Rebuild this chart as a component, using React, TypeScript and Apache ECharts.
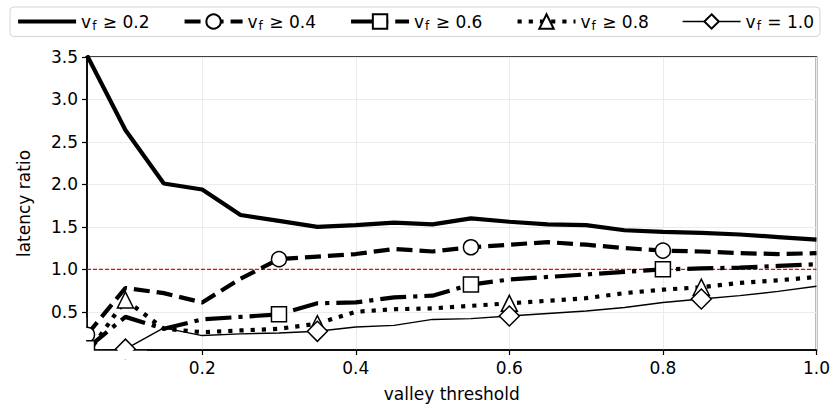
import React, { useEffect, useRef } from "react";
import * as echarts from "echarts";

// Valley threshold sweep (x) and latency ratio per minimum valley fraction.
const thresholds = [0.05, 0.1, 0.15, 0.2, 0.25, 0.3, 0.35, 0.4, 0.45, 0.5, 0.55, 0.6, 0.65, 0.7, 0.75, 0.8, 0.85, 0.9, 0.95, 1.0];
const vf02 = [3.52, 2.64, 2.01, 1.94, 1.64, 1.57, 1.5, 1.52, 1.55, 1.53, 1.6, 1.56, 1.53, 1.52, 1.46, 1.44, 1.43, 1.41, 1.38, 1.35];
const vf04 = [0.23, 0.78, 0.72, 0.61, 0.89, 1.12, 1.15, 1.18, 1.24, 1.21, 1.26, 1.29, 1.32, 1.29, 1.25, 1.22, 1.21, 1.19, 1.18, 1.19];
const vf06 = [0.07, 0.44, 0.3, 0.41, 0.44, 0.47, 0.6, 0.61, 0.67, 0.69, 0.82, 0.88, 0.91, 0.94, 0.97, 1.0, 1.01, 1.02, 1.04, 1.06];
const vf08 = [0.0, 0.64, 0.3, 0.26, 0.28, 0.3, 0.36, 0.5, 0.53, 0.54, 0.57, 0.6, 0.63, 0.66, 0.72, 0.76, 0.79, 0.84, 0.87, 0.91];
const vf10 = [0.03, 0.06, 0.31, 0.22, 0.24, 0.25, 0.27, 0.32, 0.34, 0.41, 0.42, 0.45, 0.48, 0.51, 0.55, 0.61, 0.65, 0.69, 0.74, 0.8];

const xTicks = [0.2, 0.4, 0.6, 0.8, 1.0];
const yTicks = [0.5, 1.0, 1.5, 2.0, 2.5, 3.0, 3.5];
const xRange = [0.05, 1.0];
const yRange = [0.05, 3.5];
const baseline = 1.0;

// Marker positions (every fifth sample)
const markEveryA = [0, 5, 10, 15];
const markEveryB = [1, 6, 11, 16];

const legendLabels: Record<string, string> = {
  vf02: "{t|v}{s|f}{t| \u2265 0.2}",
  vf04: "{t|v}{s|f}{t| \u2265 0.4}",
  vf06: "{t|v}{s|f}{t| \u2265 0.6}",
  vf08: "{t|v}{s|f}{t| \u2265 0.8}",
  vf10: "{t|v}{s|f}{t| = 1.0}",
};

const FONT = "DejaVu Sans";
const LW = 4.2;
const DASHED = [16, 7];
const DASHDOT = [26, 7, 4.2, 7];
const DOTTED = [4.2, 7];

// Plot area layout (px)
const W = 833;
const H = 407;
const GRID = { left: 87, right: 16, top: 57, bottom: 57 };

function points(values: number[], marks: number[]) {
  return thresholds.map((x, i) =>
    marks.indexOf(i) >= 0 ? { value: [x, values[i]] } : { value: [x, values[i]], symbol: "none" }
  );
}

const markerStyle = { color: "#fff", borderColor: "#000", borderWidth: 1.5 };

export default function App() {
  const ref = useRef<HTMLDivElement>(null);

  useEffect(() => {
    if (!ref.current) return;
    const chart = echarts.init(ref.current, undefined, { renderer: "svg" });
    const axisText = { fontFamily: FONT, fontSize: 17, color: "#000" };
    const plotBottom = H - GRID.bottom;

    chart.setOption({
      animation: false,
      backgroundColor: "#fff",
      textStyle: { fontFamily: FONT },
      // White strips just outside the axes so edge markers look clipped to the plot box
      graphic: [
        {
          type: "rect",
          silent: true,
          z: 100,
          shape: { x: GRID.left - 20, y: plotBottom - 32, width: 19.2, height: 44 },
          style: { fill: "#fff" },
        },
        {
          type: "rect",
          silent: true,
          z: 100,
          shape: { x: GRID.left - 20, y: plotBottom + 0.8, width: 80, height: 9 },
          style: { fill: "#fff" },
        },
      ],
      legend: {
        top: 7,
        left: 10,
        padding: [6, 6, 5, 6],
        borderColor: "#d6d6d6",
        borderWidth: 1,
        borderRadius: 4,
        itemWidth: 58,
        itemHeight: 18,
        itemGap: 33,
        data: [
          { name: "vf02", itemStyle: { opacity: 0 }, lineStyle: { color: "#000", width: LW, type: "solid" } },
          { name: "vf04", lineStyle: { color: "#000", width: LW, type: DASHED } },
          { name: "vf06", lineStyle: { color: "#000", width: LW, type: DASHDOT } },
          { name: "vf08", lineStyle: { color: "#000", width: LW, type: DOTTED } },
          { name: "vf10", lineStyle: { color: "#000", width: 1.4, type: "solid" } },
        ],
        formatter: (name: string) => legendLabels[name],
        textStyle: {
          fontFamily: FONT,
          fontSize: 17,
          color: "#000",
          rich: {
            t: { fontFamily: FONT, fontSize: 17, color: "#000" },
            s: { fontFamily: FONT, fontSize: 12, color: "#000", padding: [8, 1, 0, 1] },
          },
        },
      },
      grid: {
        ...GRID,
        show: true,
        borderColor: "#000",
        borderWidth: 1.5,
      },
      xAxis: {
        type: "value",
        min: xRange[0],
        max: xRange[1],
        name: "valley threshold",
        nameLocation: "middle",
        nameGap: 35,
        nameTextStyle: axisText,
        axisLine: { show: true, onZero: false, lineStyle: { color: "#000", width: 1.5 } },
        axisTick: { show: true, length: 5, lineStyle: { color: "#000", width: 1.2 }, customValues: xTicks },
        axisLabel: { ...axisText, margin: 9, customValues: xTicks, formatter: (v: number) => v.toFixed(1) },
        splitLine: { show: true, lineStyle: { color: "#ebebeb", width: 1 } },
      },
      yAxis: {
        type: "value",
        min: yRange[0],
        max: yRange[1],
        name: "latency ratio",
        nameLocation: "middle",
        nameGap: 55,
        nameTextStyle: axisText,
        axisLine: { show: true, onZero: false, lineStyle: { color: "#000", width: 1.5 } },
        axisTick: { show: true, length: 5, lineStyle: { color: "#000", width: 1.2 }, customValues: yTicks },
        axisLabel: { ...axisText, margin: 9, customValues: yTicks, formatter: (v: number) => v.toFixed(1) },
        splitLine: { show: true, lineStyle: { color: "#ebebeb", width: 1 } },
      },
      series: [
        {
          name: "baseline",
          type: "line",
          data: [[xRange[0], baseline], [xRange[1], baseline]],
          symbol: "none",
          silent: true,
          z: 1,
          lineStyle: { color: "#ff0000", width: 1.2, type: [4, 2] },
          itemStyle: { color: "#ff0000" },
        },
        {
          name: "vf02",
          type: "line",
          data: points(vf02, []),
          symbol: "none",
          clip: true,
          lineStyle: { color: "#000", width: LW, type: "solid" },
          itemStyle: { color: "#000" },
        },
        {
          name: "vf04",
          type: "line",
          data: points(vf04, markEveryA),
          symbol: "circle",
          symbolSize: 15,
          clip: true,
          lineStyle: { color: "#000", width: LW, type: DASHED },
          itemStyle: markerStyle,
        },
        {
          name: "vf06",
          type: "line",
          data: points(vf06, markEveryA),
          symbol: "rect",
          symbolSize: 15,
          clip: true,
          lineStyle: { color: "#000", width: LW, type: DASHDOT },
          itemStyle: markerStyle,
        },
        {
          name: "vf08",
          type: "line",
          data: points(vf08, markEveryB),
          symbol: "triangle",
          symbolSize: 16,
          clip: true,
          lineStyle: { color: "#000", width: LW, type: DOTTED },
          itemStyle: markerStyle,
        },
        {
          name: "vf10",
          type: "line",
          data: points(vf10, markEveryB),
          symbol: "diamond",
          symbolSize: 20,
          clip: true,
          lineStyle: { color: "#000", width: 1.4, type: "solid" },
          itemStyle: markerStyle,
        },
      ],
    });

    return () => chart.dispose();
  }, []);

  return (
    <div
      ref={ref}
      style={{ position: "absolute", left: 0, top: 0, width: W, height: H }}
    />
  );
}
